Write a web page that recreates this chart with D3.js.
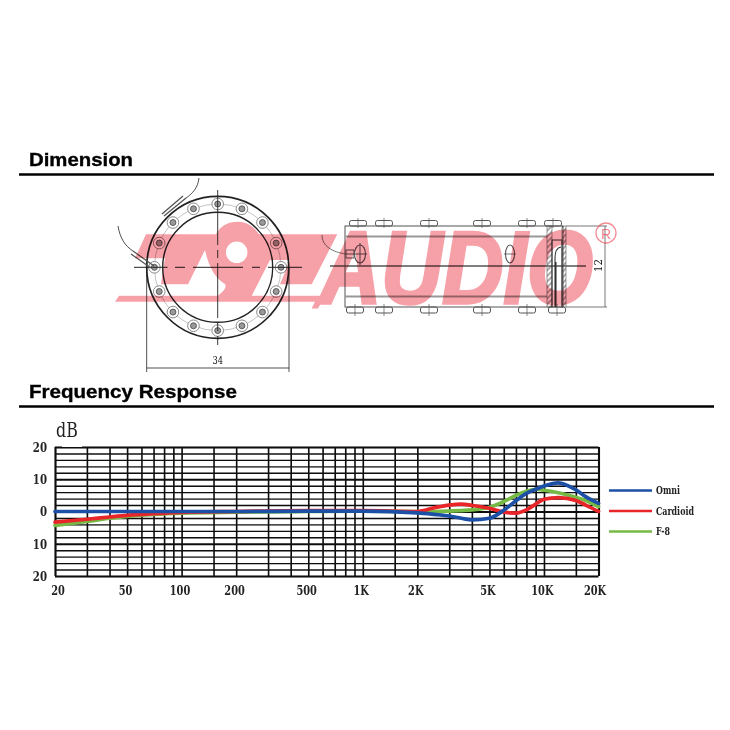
<!DOCTYPE html>
<html><head><meta charset="utf-8">
<script src="https://cdn.jsdelivr.net/npm/d3@7"></script>
<style>html,body{margin:0;padding:0;background:#fff}svg{display:block}</style>
</head><body><svg id="c" width="730" height="730"></svg>
<script>
// ---- chart data ----
const xLabels = [20,50,100,200,500,1000,2000,5000,10000,20000];
const xLabelText = ["20","50","100","200","500","1K","2K","5K","10K","20K"];
const xGrid = [20,30,40,50,60,70,80,90,100,150,200,300,400,500,600,700,800,900,1000,1500,2000,3000,4000,5000,6000,7000,8000,9000,10000,15000,20000];
const yGrid = [20,18,16,14,12,10,8,6,4,2,0,-2,-4,-6,-8,-10,-12,-14,-16,-18,-20];
const yLabels = [20,10,0,-10,-20];
const freqs    = [20,30,40,50,70,100,200,500,1000,2000,2500,3000,3500,4000,5000,6000,7000,8000,9000,10000,12000,15000,17000,20000];
const omni     = [0,0,0,0,0,0,0,0.1,0.1,-0.4,-0.9,-1.4,-2.1,-2.6,-2.1,0.4,3.3,5.6,6.9,7.9,8.9,6.7,4.6,2.5];
const cardioid = [-3.3,-2.4,-1.7,-1.2,-0.7,-0.3,0,0.3,0.3,0,1.2,2,2.3,1.9,1,-0.2,-0.5,0.5,2.3,3.8,4.3,3.4,2,0];
const figure8  = [-4.3,-3.1,-2.1,-1.5,-0.9,-0.5,-0.2,0,0.1,0,0,0.1,0.3,0.5,1.3,3.1,5,6.3,6.9,6.6,5.8,4.4,3.4,1.5];
const seriesNames = ["Omni","Cardioid","F-8"];
const seriesColors = ["#1d4fa6","#e8262b","#76ba45"];
// ---- drawing data ----
const boltAngles = d3.range(0,360,22.5);
const sideBoltsTop = [358,384,429,482,527,553];
const sideBoltsBottom = [355,384,429,482,527,557];

const svg = d3.select("#c");
const defs = svg.append("defs");
defs.append("filter").attr("id","soft").append("feGaussianBlur").attr("stdDeviation",0.5);
const root = svg.append("g").attr("filter","url(#soft)");

// Section headings
[["Dimension",166,104,174.5],["Frequency Response",398,208,406.5]].forEach(([t,y,w,ry])=>{
  root.append("text").text(t).attr("x",29).attr("y",y).attr("textLength",w).attr("lengthAdjust","spacingAndGlyphs")
    .attr("font-family","Liberation Sans").attr("font-weight",700).attr("font-size",18.5).attr("stroke","#000").attr("stroke-width",0.35);
  root.append("line").attr("x1",19).attr("x2",714).attr("y1",ry).attr("y2",ry).attr("stroke","#000").attr("stroke-width",2.4);
});

// ---- ring drawing ----
const ink="#222";
const ring=root.append("g").attr("fill","none").attr("stroke",ink);
const cx=217.7, cy=267.3;
ring.append("circle").attr("cx",cx).attr("cy",cy).attr("r",71).attr("stroke-width",1.7);
ring.append("circle").attr("cx",cx).attr("cy",cy).attr("r",55).attr("stroke-width",1.4);
ring.append("circle").attr("cx",cx).attr("cy",cy).attr("r",63.3).attr("stroke","#888").attr("stroke-width",0.5);
boltAngles.forEach(a=>{
  const px=cx+63.3*Math.cos(a*Math.PI/180), py=cy+63.3*Math.sin(a*Math.PI/180);
  ring.append("circle").attr("cx",px).attr("cy",py).attr("r",5.8).attr("fill","#fff").attr("stroke","#888").attr("stroke-width",1);
  ring.append("circle").attr("cx",px).attr("cy",py).attr("r",3).attr("fill","#999").attr("stroke","#444").attr("stroke-width",0.8);
});
ring.append("line").attr("x1",cx).attr("x2",cx).attr("y1",190).attr("y2",345).attr("stroke-width",0.9).attr("stroke-dasharray","55 5 8 5");
[[134,167.5],[175,185],[193,243],[252,260],[268,302]].forEach(([a,b])=>
  ring.append("line").attr("x1",a).attr("x2",b).attr("y1",cy).attr("y2",cy).attr("stroke-width",1));
[146.7,289].forEach(x=>ring.append("line").attr("x1",x).attr("x2",x).attr("y1",267).attr("y2",372).attr("stroke-width",0.8));
ring.append("line").attr("x1",146.7).attr("x2",289).attr("y1",368).attr("y2",368).attr("stroke-width",0.8);
ring.append("path").attr("d","M199,178 C198,188 192,194 186,198").attr("stroke-width",0.8);
ring.append("path").attr("d","M186,198 L164,216 M183,196 L162,214").attr("stroke","#555").attr("stroke-width",1.3);
ring.append("path").attr("d","M118,226 C120,238 125,246 133,251").attr("stroke-width",0.8);
ring.append("path").attr("d","M133,251 L154,266 M131,254 L151,268").attr("stroke","#555").attr("stroke-width",1.3);
root.append("text").text("34").attr("transform",`translate(${cx},364) scale(.8,1)`).attr("text-anchor","middle").attr("font-family","DejaVu Serif Condensed").attr("font-size",11.5).attr("fill","#111");

// ---- side view ----
const side=root.append("g").attr("fill","none").attr("stroke","#555");
side.append("rect").attr("x",345).attr("y",226).attr("width",218).attr("height",81).attr("stroke-width",1);
[[236.5,"#999",2],[266,"#555",1.6],[296.5,"#999",2]].forEach(([y,c,w])=>
  side.append("line").attr("x1",y===266?330:345).attr("x2",y===266?586:547).attr("y1",y).attr("y2",y).attr("stroke",c).attr("stroke-width",w));
sideBoltsTop.forEach(x=>{
  side.append("rect").attr("x",x-8.5).attr("y",220.5).attr("width",17).attr("height",5.5).attr("rx",2).attr("stroke-width",1);
  side.append("line").attr("x1",x).attr("x2",x).attr("y1",218).attr("y2",228).attr("stroke-width",0.7);
});
sideBoltsBottom.forEach(x=>{
  side.append("rect").attr("x",x-8.5).attr("y",307).attr("width",17).attr("height",6).attr("rx",2).attr("stroke-width",1);
  side.append("line").attr("x1",x).attr("x2",x).attr("y1",304).attr("y2",316).attr("stroke-width",0.7);
});
// hatched flanges
const hatch=defs.append("pattern").attr("id","hatch").attr("width",4).attr("height",4).attr("patternUnits","userSpaceOnUse").attr("patternTransform","rotate(-45)");
hatch.append("line").attr("x1",0).attr("x2",4).attr("y1",2).attr("y2",2).attr("stroke","#555").attr("stroke-width",1);
side.append("rect").attr("x",547).attr("y",226).attr("width",5).attr("height",81).attr("fill","url(#hatch)").attr("stroke-width",.6);
side.append("rect").attr("x",562).attr("y",226).attr("width",4).attr("height",81).attr("fill","url(#hatch)").attr("stroke-width",.6);
side.append("path").attr("d","M552,307 V240 H562 V307 M555,307 V258 Q555,248 561,247 M556,307 V262").attr("stroke","#333").attr("stroke-width",1.1);
// connector and oval
side.append("ellipse").attr("cx",360).attr("cy",254).attr("rx",5.5).attr("ry",9).attr("stroke-width",1.1);
side.append("path").attr("d","M345,254 H367 M360,243 V265 M346,250 H354 V258 H346 Z").attr("stroke-width",1);
side.append("ellipse").attr("cx",510).attr("cy",254).attr("rx",4.5).attr("ry",9).attr("stroke-width",1.1);
side.append("path").attr("d","M504,254 H516").attr("stroke-width",0.8);
side.append("path").attr("d","M322,235 C322,246 332,252 346,254").attr("stroke-width",0.8);
// dimension 12
side.append("path").attr("d","M566,226 H607 M566,307 H607 M605,226 V307").attr("stroke-width",0.8);
root.append("text").text("12").attr("transform","translate(602,265.5) rotate(-90)").attr("text-anchor","middle")
  .attr("font-family","DejaVu Serif Condensed").attr("font-size",11.5).attr("fill","#111");

// ---- pink logo ----
const pink="#ee3f50";
const logo=root.append("g").attr("opacity",0.5).style("mix-blend-mode","multiply");
logo.append("path").attr("fill",pink).attr("fill-rule","evenodd").attr("d",
  "M146,234.3 H216 C220,226 228,221.7 238,221.7 C246,221.7 254,226 259,234.3 H337.3 L311.7,284.3 H280 L290,260 H270 L251.7,295.7 H325 L318,308.5 H311.7 L315,301.7 H115 L119,295.7 H218 C224,291 227,287 225,284 C216,279 209,268 205,250 L188,284.3 H161 L165,258.3 H135 Z"+
  " M247.5,252.3 a10.8,10.8 0 1,0 -21.6,0 a10.8,10.8 0 1,0 21.6,0 Z");
logo.append("text").text("AUDIO").attr("transform","translate(320,303) scale(.83,1)")
  .attr("font-family","Liberation Sans").attr("font-weight",700).attr("font-style","italic").attr("font-size",102)
  .attr("fill",pink).attr("stroke",pink).attr("stroke-width",3.5);
root.append("circle").attr("cx",606).attr("cy",233).attr("r",10).attr("fill","none").attr("stroke",pink).attr("stroke-opacity",0.6).attr("stroke-width",1.3);
root.append("text").text("R").attr("x",606).attr("y",238.5).attr("text-anchor","middle").attr("font-family","Liberation Sans").attr("font-size",14).attr("fill",pink).attr("fill-opacity",0.65);

// ---- frequency response ----
const x=d3.scaleLog().domain([20,20000]).range([55,598.5]);
const y=d3.scaleLinear().domain([20,-20]).range([447,576]);
const gridInk="#0a0a0a";
const gx=root.append("g").attr("transform","translate(0,576)")
  .call(d3.axisBottom(x).tickValues(xGrid).tickSize(-129).tickFormat(""));
const gy=root.append("g").attr("transform","translate(55,0)")
  .call(d3.axisLeft(y).tickValues(yGrid).tickSize(-543.5).tickFormat(""));
[gx,gy].forEach(g=>{g.select(".domain").remove();g.selectAll("line").attr("stroke",gridInk).attr("stroke-width",1.5);});
gy.selectAll(".tick line").attr("stroke-width",d=>d%10===0?1.9:1.4);
gx.selectAll(".tick line").attr("stroke-width",d=>(d===20||d===20000)?2.1:1.6);
root.append("rect").attr("x",62).attr("y",445.8).attr("width",20).attr("height",1.2).attr("fill","#fff");

const labelFont="DejaVu Serif Condensed";
const ax=root.append("g").attr("transform","translate(0,576)")
  .call(d3.axisBottom(x).tickValues(xLabels).tickSize(0).tickPadding(10).tickFormat((d,i)=>xLabelText[i]));
ax.select(".domain").remove();
ax.selectAll(".tick").attr("transform",d=>`translate(${x(d)+(d===20?3:d===20000?-3.5:-1.6)},0)`);
ax.selectAll("text").attr("transform","scale(.84,1)").attr("font-family",labelFont).attr("font-weight",700).attr("font-size",13).attr("fill","#222");
const ay=root.append("g").attr("transform","translate(47,0)")
  .call(d3.axisLeft(y).tickValues(yLabels).tickSize(0).tickPadding(0).tickFormat(d=>Math.abs(d)));
ay.select(".domain").remove();
ay.selectAll("text").attr("transform","scale(.84,1)").attr("font-family",labelFont).attr("font-weight",700).attr("font-size",13.5).attr("fill","#222");
root.append("text").text("dB").attr("transform","translate(56,437) scale(.88,1)").attr("font-family",labelFont).attr("font-size",20).attr("fill","#222");

const curve=d3.line().x((d,i)=>x(freqs[i])).y(d=>y(d)).curve(d3.curveMonotoneX);
[[figure8,2],[cardioid,1],[omni,0]].forEach(([vals,k])=>{
  root.append("path").attr("d",curve(vals)).attr("fill","none").attr("stroke",seriesColors[k]).attr("stroke-width",3.7).attr("stroke-linecap","round");
});

// legend
seriesNames.forEach((n,i)=>{
  const ly=490.5+i*20.5;
  root.append("line").attr("x1",609).attr("x2",652).attr("y1",ly).attr("y2",ly).attr("stroke",seriesColors[i]).attr("stroke-width",2.6);
  root.append("text").text(n).attr("transform",`translate(656,${ly+3.5}) scale(.8,1)`).attr("font-family",labelFont).attr("font-weight",700).attr("font-size",11).attr("fill","#222");
});
</script></body></html>
